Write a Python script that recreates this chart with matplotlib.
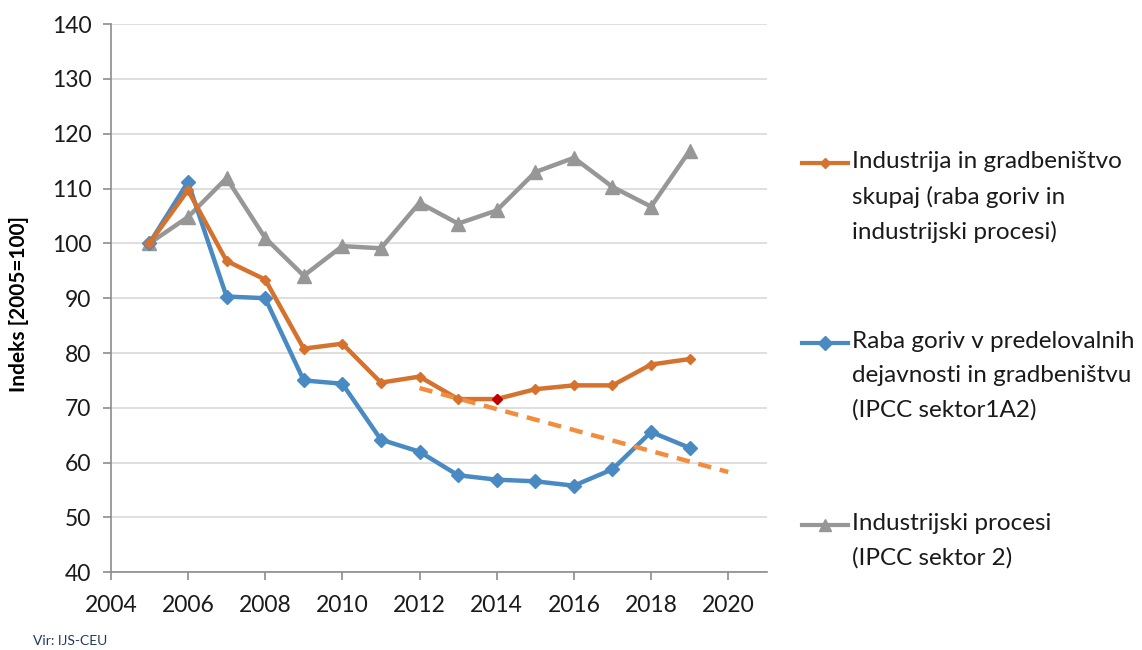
import matplotlib.pyplot as plt
from matplotlib.lines import Line2D

plt.rcParams['font.family'] = ['Lato', 'DejaVu Sans']

years = list(range(2005, 2020))
skupaj = [100, 109.7, 96.8, 93.4, 80.8, 81.7, 74.6, 75.7, 71.6, 71.6, 73.4, 74.1, 74.1, 77.9, 78.9]
raba_goriv = [100, 111.2, 90.3, 90.0, 75.0, 74.4, 64.2, 62.0, 57.7, 56.9, 56.6, 55.8, 58.8, 65.6, 62.7]
procesi = [100, 104.8, 111.9, 101.0, 94.1, 99.5, 99.1, 107.4, 103.6, 106.0, 113.0, 115.6, 110.3, 106.7, 116.9]
trend_x = [2012, 2020]
trend_y = [73.6, 58.3]
highlight_year = 2014
labels = ['Industrija in gradbeništvo\nskupaj (raba goriv in\nindustrijski procesi)',
          'Raba goriv v predelovalnih\ndejavnosti in gradbeništvu\n(IPCC sektor1A2)',
          'Industrijski procesi\n(IPCC sektor 2)']

c_orange = '#D5722E'
c_blue = '#4A8AC2'
c_gray = '#979797'
c_trend = '#F28C3E'

fig = plt.figure(figsize=(11.42, 6.5), dpi=100)
ax = fig.add_axes([0.097, 0.1195, 0.5745, 0.8435])

ax.plot(years, procesi, color=c_gray, lw=3.2, marker='^', ms=10, zorder=3)
ax.plot(years, raba_goriv, color=c_blue, lw=3.2, marker='D', ms=7, zorder=4)
ax.plot(years, skupaj, color=c_orange, lw=3.2, marker='D', ms=5, zorder=5)
ax.plot(trend_x, trend_y, color=c_trend, lw=3.2, ls=(0, (3, 2)), zorder=6)
hi = years.index(highlight_year)
ax.plot([highlight_year], [skupaj[hi]], color='#C00000', marker='D', ms=5, ls='none', zorder=7)

ax.set_xlim(2004, 2021)
ax.set_ylim(40, 140)
ax.set_xticks(range(2004, 2021, 2))
ax.set_yticks(range(40, 141, 10))
ax.tick_params(labelsize=16.5, colors='#8C8C8C', labelcolor='#1a1a1a', length=6, width=1.2)
ax.tick_params(axis='x', pad=10)
ax.tick_params(axis='y', pad=8)
ax.grid(axis='y', color='#D9D9D9', lw=1.2)
ax.set_axisbelow(True)
for s in ['top', 'right']:
    ax.spines[s].set_visible(False)
for s in ['left', 'bottom']:
    ax.spines[s].set_color('#8C8C8C')
    ax.spines[s].set_linewidth(1.2)
ax.set_ylabel('Indeks [2005=100]', fontsize=15, fontweight='bold')
ax.yaxis.set_label_coords(-0.125, 0.49)

# legend drawn beside the axes
colors = [c_orange, c_blue, c_gray]
markers = ['D', 'D', '^']
msizes = [5, 7, 9]
ys = [163, 343, 525]
for lab, c, m, ms, y in zip(labels, colors, markers, msizes, ys):
    yf = 1 - y / 650
    fig.add_artist(Line2D([802 / 1142, 848 / 1142], [yf, yf], color=c, lw=3,
                          transform=fig.transFigure))
    fig.add_artist(Line2D([825 / 1142], [yf], color=c, marker=m, ms=ms,
                          transform=fig.transFigure))
    fig.text(852 / 1142, yf + 12 / 650, lab, fontsize=17.5, va='top', ha='left',
             color='#1a1a1a', linespacing=1.75)

fig.text(33 / 1142, 1 - 641 / 650, 'Vir: IJS-CEU', fontsize=10, color='#1F3A5F', va='center')

fig.savefig('out.png', dpi=100)
